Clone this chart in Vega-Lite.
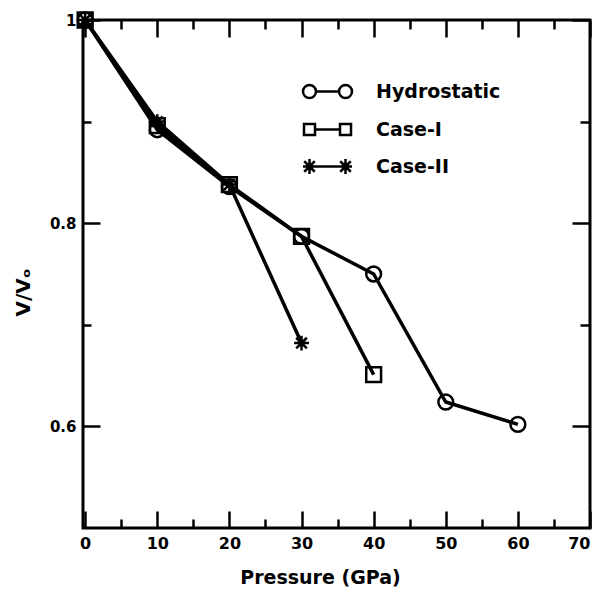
{
  "$schema": "https://vega.github.io/schema/vega-lite/v6.json",
  "width": 507,
  "height": 508,
  "autosize": {"type": "none"},
  "padding": {"left": 83, "top": 20, "right": 10, "bottom": 65},
  "config": {
    "background": "white",
    "view": {"stroke": "black", "strokeWidth": 3},
    "font": "DejaVu Sans",
    "axis": {
      "domain": false,
      "grid": false,
      "tickColor": "black",
      "tickWidth": 2.5,
      "labelFont": "DejaVu Sans",
      "labelFontWeight": "bold",
      "labelFontSize": 16,
      "labelColor": "black",
      "titleFont": "DejaVu Sans",
      "titleFontWeight": "bold",
      "titleColor": "black"
    },
    "legend": {
      "labelFont": "DejaVu Sans",
      "labelFontWeight": "bold",
      "labelFontSize": 19,
      "labelColor": "black",
      "symbolSize": 2500,
      "symbolStrokeWidth": 2.5,
      "symbolStrokeColor": "black",
      "symbolOpacity": 1,
      "rowPadding": -16,
      "labelOffset": 22,
      "labelLimit": 300
    }
  },
  "data": {
    "values": [
      {"series": "Hydrostatic", "P": 0, "V": 1.0},
      {"series": "Hydrostatic", "P": 10, "V": 0.892},
      {"series": "Hydrostatic", "P": 20, "V": 0.836},
      {"series": "Hydrostatic", "P": 30, "V": 0.787},
      {"series": "Hydrostatic", "P": 40, "V": 0.750},
      {"series": "Hydrostatic", "P": 50, "V": 0.624},
      {"series": "Hydrostatic", "P": 60, "V": 0.602},
      {"series": "Case-I", "P": 0, "V": 1.0},
      {"series": "Case-I", "P": 10, "V": 0.896},
      {"series": "Case-I", "P": 20, "V": 0.838},
      {"series": "Case-I", "P": 30, "V": 0.787},
      {"series": "Case-I", "P": 40, "V": 0.651},
      {"series": "Case-II", "P": 0, "V": 1.0},
      {"series": "Case-II", "P": 10, "V": 0.900},
      {"series": "Case-II", "P": 20, "V": 0.838},
      {"series": "Case-II", "P": 30, "V": 0.682}
    ]
  },
  "layer": [
    {
      "mark": {"type": "line", "color": "black", "strokeWidth": 3.5},
      "encoding": {
        "x": {
          "field": "P", "type": "quantitative",
          "scale": {"domain": [-0.3, 70], "nice": false, "zero": false},
          "axis": {
            "orient": "bottom",
            "values": [0, 5, 10, 15, 20, 25, 30, 35, 40, 45, 50, 55, 60, 65, 70],
            "tickSize": {"condition": {"test": "datum.value % 10 === 0", "value": -17}, "value": -9},
            "labelExpr": "datum.value % 10 === 0 ? datum.label : ''",
            "labelPadding": 24,
            "title": "Pressure (GPa)",
            "titleFontSize": 19,
            "titlePadding": 17,
            "titleX": 237
          }
        },
        "y": {
          "field": "V", "type": "quantitative",
          "scale": {"domain": [0.5, 1.0], "nice": false, "zero": false},
          "axis": {
            "orient": "left",
            "values": [0.6, 0.7, 0.8, 0.9, 1.0],
            "tickSize": {"condition": {"test": "round(datum.value * 10) % 2 === 0", "value": -17}, "value": -8},
            "labelExpr": "round(datum.value * 10) % 2 === 0 ? (datum.value === 1 ? '1' : format(datum.value, '.1f')) : ''",
            "labelFontSize": 15,
            "labelPadding": 24,
            "title": "V/Vₒ",
            "titleFontSize": 20,
            "titlePadding": 16,
            "titleY": 272
          }
        },
        "detail": {"field": "series"},
        "order": {"field": "P"}
      }
    },
    {
      "mark": {"type": "point", "filled": false, "color": "black", "strokeWidth": 2.5, "size": 220, "opacity": 1},
      "encoding": {
        "x": {
          "field": "P", "type": "quantitative",
          "axis": {
            "orient": "top",
            "values": [0, 5, 10, 15, 20, 25, 30, 35, 40, 45, 50, 55, 60, 65, 70],
            "tickSize": {"condition": {"test": "datum.value % 10 === 0", "value": -17}, "value": -9},
            "labels": false,
            "title": null
          }
        },
        "y": {
          "field": "V", "type": "quantitative",
          "axis": {
            "orient": "right",
            "values": [0.6, 0.7, 0.8, 0.9, 1.0],
            "tickSize": {"condition": {"test": "round(datum.value * 10) % 2 === 0", "value": -18}, "value": -10},
            "labels": false,
            "title": null
          }
        },
        "shape": {
          "field": "series",
          "scale": {
            "domain": ["Hydrostatic", "Case-I", "Case-II"],
            "range": ["circle", "square", "M-1,0H1M0,-1V1M-0.72,-0.72L0.72,0.72M-0.72,0.72L0.72,-0.72"]
          },
          "legend": null
        }
      }
    },
    {
      "mark": {"type": "point", "filled": false, "color": "black", "strokeWidth": 2.5, "opacity": 0},
      "encoding": {
        "x": {"field": "P", "type": "quantitative", "axis": null},
        "y": {"field": "V", "type": "quantitative", "axis": null},
        "shape": {
          "field": "series",
          "title": null,
          "scale": {
            "domain": ["Hydrostatic", "Case-I", "Case-II"],
            "range": [
              "M-0.46,0A0.26,0.26 0 1,1 -0.98,0A0.26,0.26 0 1,1 -0.46,0M-0.46,0L0.46,0M0.98,0A0.26,0.26 0 1,1 0.46,0A0.26,0.26 0 1,1 0.98,0",
              "M-0.94,-0.22H-0.5V0.22H-0.94ZM-0.5,0H0.5M0.5,-0.22H0.94V0.22H0.5Z",
              "M-0.98,0H0.98M-0.72,-0.3V0.3M-0.93,-0.21L-0.51,0.21M-0.93,0.21L-0.51,-0.21M0.72,-0.3V0.3M0.51,-0.21L0.93,0.21M0.51,0.21L0.93,-0.21"
            ]
          },
          "legend": {"orient": "none", "legendX": 218, "legendY": 45}
        }
      }
    }
  ],
  "resolve": {
    "scale": {"shape": "independent"},
    "legend": {"shape": "independent"},
    "axis": {"x": "independent", "y": "independent"}
  }
}
